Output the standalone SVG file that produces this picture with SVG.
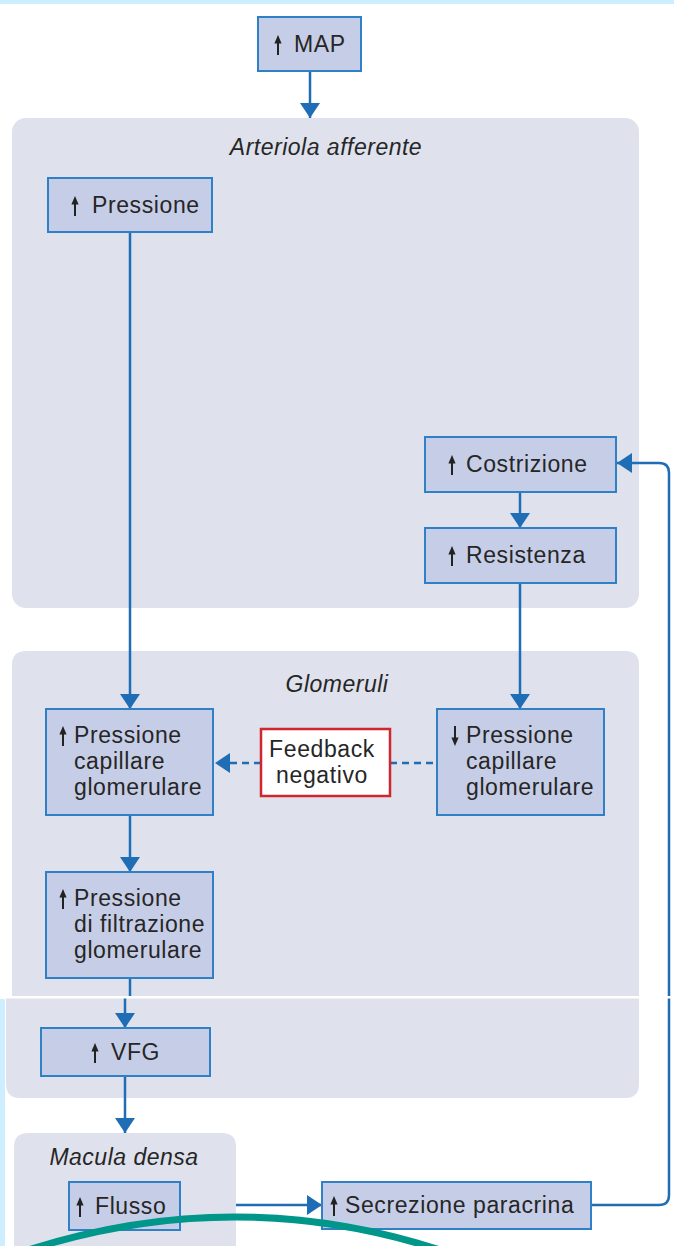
<svg xmlns="http://www.w3.org/2000/svg" xmlns:xlink="http://www.w3.org/1999/xlink" width="674" height="1246" viewBox="0 0 674 1246">
  <style>
    .panel { fill: #dfe1ed; }
    .box { fill: #c6cee7; stroke: #2f80c6; stroke-width: 2; }
    .fb { fill: #ffffff; stroke: #d0272e; stroke-width: 2.5; }
    .t { font-family: "Liberation Sans", Arial, sans-serif; font-size: 23px; fill: #262626; letter-spacing: 0.6px; }
    .ti { font-family: "Liberation Sans", Arial, sans-serif; font-size: 23px; font-style: italic; fill: #262626; letter-spacing: 0.5px; }
    .c { fill: none; stroke: #1f6db5; stroke-width: 2.5; }
    .d { fill: none; stroke: #1f6db5; stroke-width: 2.5; stroke-dasharray: 7 5; }
    .mk { fill: #1f6db5; }
    .ic { fill: #222; }
  </style>
  <defs>
    <marker id="ah" viewBox="0 0 15 20" refX="15" refY="10" markerWidth="15" markerHeight="20" markerUnits="userSpaceOnUse" orient="auto">
      <path class="mk" d="M0,0 L15,10 L0,20 Z"/>
    </marker>
    <!-- small up / down arrows used inside the labels -->
    <g id="up">
      <path class="ic" d="M0,-10 L3.6,-1.5 L-3.6,-1.5 Z"/>
      <rect class="ic" x="-1" y="-2" width="2" height="12"/>
    </g>
    <g id="down">
      <path class="ic" d="M0,10 L3.6,1.5 L-3.6,1.5 Z"/>
      <rect class="ic" x="-1" y="-10" width="2" height="12"/>
    </g>
  </defs>

  <rect width="674" height="1246" fill="#ffffff"/>
  <!-- page edges -->
  <rect x="0" y="0" width="674" height="4" fill="#cdeeff"/>
  <rect x="0" y="999" width="5" height="247" fill="#cdeeff"/>

  <!-- background panels -->
  <g id="panel-arteriola">
    <rect class="panel" x="12" y="118" width="627" height="490" rx="14"/>
    <text class="ti" x="326" y="155" text-anchor="middle">Arteriola afferente</text>
  </g>
  <g id="panel-glomeruli">
    <path class="panel" d="M12,665 Q12,651 26,651 H625 Q639,651 639,665 V997 H12 Z"/>
    <text class="ti" x="337" y="692" text-anchor="middle">Glomeruli</text>
  </g>
  <g id="panel-vfg">
    <path class="panel" d="M6,998 H639 V1084 Q639,1098 625,1098 H20 Q6,1098 6,1084 Z"/>
  </g>
  <g id="panel-macula">
    <path class="panel" d="M14,1246 V1147 Q14,1133 28,1133 H222 Q236,1133 236,1147 V1246 Z"/>
    <text class="ti" x="124" y="1165" text-anchor="middle">Macula densa</text>
  </g>

  <!-- connectors -->
  <g id="connectors">
    <path class="c" d="M310,71 V118" marker-end="url(#ah)"/>
    <path class="c" d="M130,232 V709" marker-end="url(#ah)"/>
    <path class="c" d="M520,492 V528" marker-end="url(#ah)"/>
    <path class="c" d="M520,583 V709" marker-end="url(#ah)"/>
    <path class="d" d="M261,763 H215" marker-end="url(#ah)"/>
    <path class="d" d="M390,763 H437"/>
    <path class="c" d="M130,815 V872" marker-end="url(#ah)"/>
    <path class="c" d="M130,978 V997"/>
    <path class="c" d="M125,998 V1028" marker-end="url(#ah)"/>
    <path class="c" d="M125,1076 V1133" marker-end="url(#ah)"/>
    <path class="c" d="M236,1205 H322" marker-end="url(#ah)"/>
    <path class="c" d="M591,1205 H659 Q669,1205 669,1195 V473 Q669,463 659,463 H617" marker-end="url(#ah)"/>
  </g>

  <!-- nodes -->
  <g id="n-map">
    <rect class="box" x="258" y="17" width="103" height="54"/>
    <use href="#up" x="278" y="45"/>
    <text class="t" x="294" y="52">MAP</text>
  </g>
  <g id="n-pressione">
    <rect class="box" x="48" y="178" width="164" height="54"/>
    <use href="#up" x="75" y="206"/>
    <text class="t" x="92" y="213">Pressione</text>
  </g>
  <g id="n-costrizione">
    <rect class="box" x="425" y="437" width="191" height="55"/>
    <use href="#up" x="452" y="465"/>
    <text class="t" x="466" y="472">Costrizione</text>
  </g>
  <g id="n-resistenza">
    <rect class="box" x="425" y="528" width="191" height="55"/>
    <use href="#up" x="452" y="556"/>
    <text class="t" x="466" y="563">Resistenza</text>
  </g>
  <g id="n-pcg-up">
    <rect class="box" x="46" y="709" width="167" height="106"/>
    <use href="#up" x="63" y="736"/>
    <text class="t" x="74" y="743">Pressione</text>
    <text class="t" x="74" y="769">capillare</text>
    <text class="t" x="74" y="795">glomerulare</text>
  </g>
  <g id="n-feedback">
    <rect class="fb" x="261" y="729" width="129" height="67"/>
    <text class="t" x="322" y="757" text-anchor="middle">Feedback</text>
    <text class="t" x="322" y="783" text-anchor="middle">negativo</text>
  </g>
  <g id="n-pcg-down">
    <rect class="box" x="437" y="709" width="167" height="106"/>
    <use href="#down" x="455" y="736"/>
    <text class="t" x="466" y="743">Pressione</text>
    <text class="t" x="466" y="769">capillare</text>
    <text class="t" x="466" y="795">glomerulare</text>
  </g>
  <g id="n-pfg">
    <rect class="box" x="46" y="872" width="167" height="106"/>
    <use href="#up" x="63" y="899"/>
    <text class="t" x="74" y="906">Pressione</text>
    <text class="t" x="74" y="932">di filtrazione</text>
    <text class="t" x="74" y="958">glomerulare</text>
  </g>
  <g id="n-vfg">
    <rect class="box" x="41" y="1028" width="169" height="48"/>
    <use href="#up" x="95" y="1053"/>
    <text class="t" x="111" y="1060">VFG</text>
  </g>
  <g id="n-flusso">
    <rect class="box" x="69" y="1182" width="111" height="48"/>
    <use href="#up" x="80" y="1207"/>
    <text class="t" x="95" y="1214">Flusso</text>
  </g>
  <g id="n-secrezione">
    <rect class="box" x="322" y="1182" width="269" height="47"/>
    <use href="#up" x="334" y="1206"/>
    <text class="t" x="345" y="1213">Secrezione paracrina</text>
  </g>

  <!-- seam across the lower section -->
  <rect x="0" y="996" width="674" height="2.5" fill="#ffffff"/>

  <!-- teal arc at the bottom edge -->
  <path d="M22,1252 Q236,1182 446,1252" fill="none" stroke="#00968a" stroke-width="7"/>
</svg>
